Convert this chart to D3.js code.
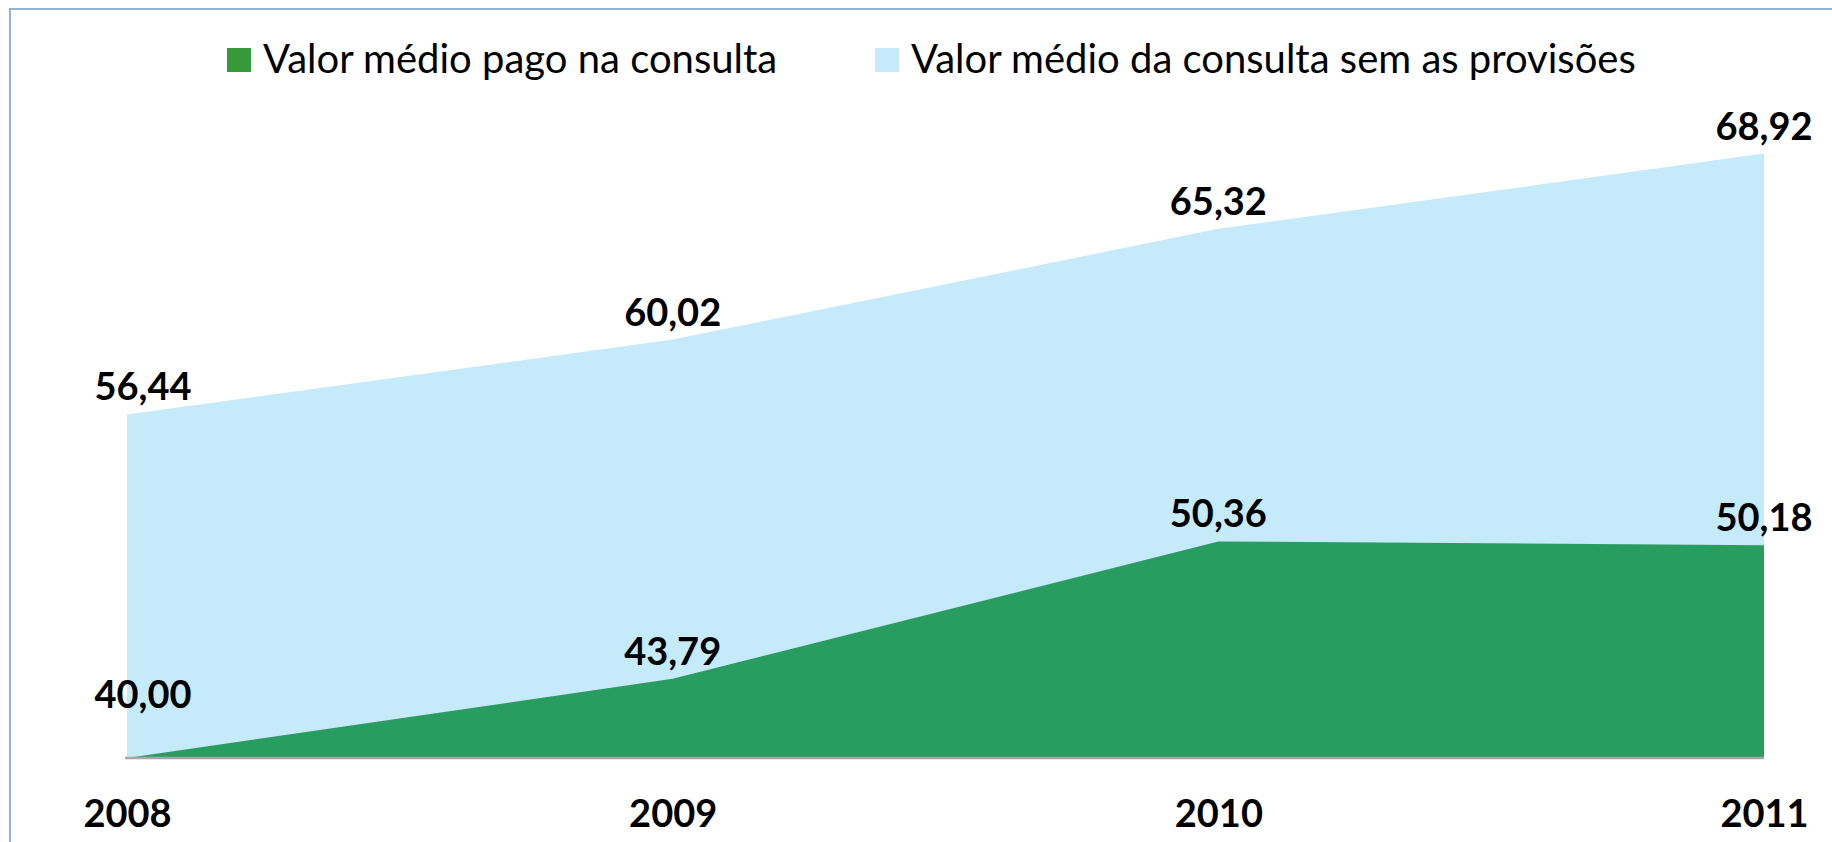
<!DOCTYPE html>
<html>
<head>
<meta charset="utf-8">
<script src="https://cdn.jsdelivr.net/npm/d3@7"></script>
<style>
body{margin:0;background:#fff;overflow:hidden;}
svg{display:block;font-family:Lato,"Open Sans",sans-serif;}
</style>
</head>
<body>
<div id="chart"></div>
<script>
const years = ["2008","2009","2010","2011"];
const valorPago = [40.00, 43.79, 50.36, 50.18];
const valorSemProvisoes = [56.44, 60.02, 65.32, 68.92];
const seriesNames = ["Valor médio pago na consulta","Valor médio da consulta sem as provisões"];
const yDomain = [40, 70];

const width = 1832;
const height = 842;
const colors = {pago:"#289d5f", sem:"#c5eafa", pagoKey:"#36993a", semKey:"#c5eafa"};

const pt = d3.formatLocale({decimal:",", thousands:".", grouping:[3], currency:["R$",""]});
const fmt = pt.format(".2f");

const svg = d3.select("#chart").append("svg")
    .attr("width", width)
    .attr("height", height);

// chart frame (right / bottom edges fall outside the window)
svg.append("rect")
    .attr("x", 10).attr("y", 9)
    .attr("width", width + 20).attr("height", height + 20)
    .attr("fill", "none")
    .attr("stroke", "#95b3d7")
    .attr("stroke-width", 2);

const xScale = d3.scalePoint().domain(years).range([127, 1764]);
const yScale = d3.scaleLinear().domain(yDomain).range([758, 131]);

const table = years.map((y, i) => ({year: y, pago: valorPago[i], sem: valorSemProvisoes[i]}));

const areaOf = key => d3.area()
    .x(d => xScale(d.year))
    .y0(yScale(yDomain[0]))
    .y1(d => yScale(d[key]));

svg.append("path")
    .datum(table)
    .attr("d", areaOf("sem"))
    .attr("fill", colors.sem);

svg.append("path")
    .datum(table)
    .attr("d", areaOf("pago"))
    .attr("fill", colors.pago);

// x axis
const xAxis = svg.append("g")
    .attr("transform", "translate(0," + yScale(yDomain[0]) + ")")
    .call(d3.axisBottom(xScale).tickSize(0).tickSizeOuter(0).tickPadding(69));
xAxis.select(".domain")
    .attr("stroke", "#a6a6a6")
    .attr("stroke-width", 2.5)
    .attr("d", "M" + (xScale(years[0]) - 2) + ",0H" + xScale(years[years.length - 1]));
xAxis.selectAll("text")
    .attr("font-family", "Lato")
    .attr("font-size", 38)
    .attr("font-weight", 700)
    .attr("fill", "#000")
    .attr("dy", 0);

// value labels
function labels(key){
    svg.append("g").selectAll("text")
        .data(table)
        .enter()
        .append("text")
        .attr("x", (d, i) => i === 0 ? xScale(d.year) + 16 : xScale(d.year))
        .attr("y", d => Math.min(yScale(d[key]) - 14, yScale(yDomain[0]) - 50))
        .attr("text-anchor", "middle")
        .attr("font-size", 38)
        .attr("font-weight", 700)
        .attr("fill", "#000")
        .text(d => fmt(d[key]));
}
labels("sem");
labels("pago");

// legend
const legendItems = [
    {name: seriesNames[0], color: colors.pagoKey, x: 227},
    {name: seriesNames[1], color: colors.semKey, x: 875}
];
const legend = svg.append("g").selectAll("g")
    .data(legendItems)
    .enter()
    .append("g")
    .attr("transform", d => "translate(" + d.x + ",0)");
legend.append("rect")
    .attr("y", 48)
    .attr("width", 24)
    .attr("height", 24)
    .attr("fill", d => d.color);
legend.append("text")
    .attr("x", 36)
    .attr("y", 73)
    .attr("font-size", 40)
    .attr("fill", "#000")
    .text(d => d.name);
</script>
</body>
</html>
